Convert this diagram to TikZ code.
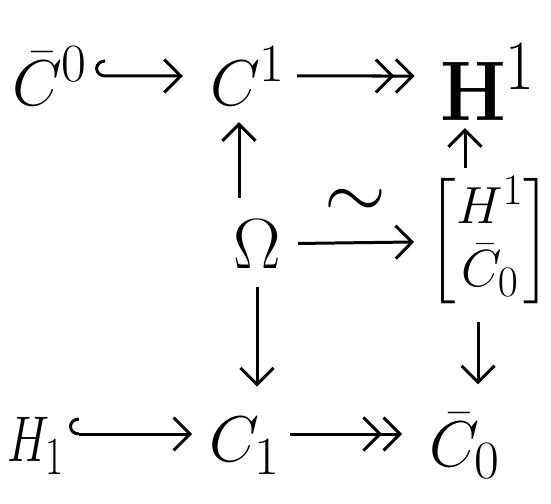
\documentclass[tikz,border=0pt]{standalone}
\usepackage{amsmath}
\usetikzlibrary{arrows.meta}
\begin{document}
\begin{tikzpicture}[x=1pt,y=-1pt,
  obj/.style={inner sep=1pt, font=\Huge, scale=2.6},
  objs/.style={inner sep=1pt, font=\Huge, scale=2.1},
  arr/.style={line width=3pt, -{Straight Barb[scale=2.2]}},
  epi/.style={line width=3pt, -{Straight Barb[scale=2.2]Straight Barb[scale=2.2]}},
  mono/.style={line width=3pt, {Hooks[right,scale=2.2]}-{Straight Barb[scale=2.2]}},
  lab/.style={font=\Huge, scale=3.2, inner sep=0pt}]
\useasboundingbox (0,0) rectangle (551,503);
\node[obj] (c0bar) at (50,76) {$\bar{C}^{0}$};
\node[inner sep=1pt, font=\Huge, xscale=3.0, yscale=3.4] (h1) at (488,82) {$\mathbf{H}^{1}$};
\node[obj] (c1) at (248,76) {$C^{1}$};
\node[obj, scale=1.1] (om) at (257,244) {$\Omega$};
\node[objs] (br) at (490,241) {$\begin{bmatrix} H^{1}\\ \bar{C}_{0}\end{bmatrix}$};
\node[inner sep=1pt, font=\Huge, xscale=1.9, yscale=2.6] (hh1) at (36,446) {$H_{1}$};
\node[obj] (cc1) at (245,446) {$C_{1}$};
\node[obj] (c0b) at (465,446) {$\bar{C}_{0}$};
\draw[mono, shorten <=4pt, shorten >=24pt] (c0bar) -- (c1);
\draw[epi, shorten <=8pt, shorten >=22pt] (c1) -- (h1.west |- c1);
\draw[arr, shorten <=18pt, shorten >=14pt] ([xshift=-18pt]om.north) -- ([xshift=-18pt]om.north |- c1.south);
\draw[arr, shorten <=15pt, shorten >=28pt] (om.south) -- (om.south |- cc1.north);
\draw[arr, shorten <=14pt, shorten >=12pt] (om) -- node[lab, above=6pt]{$\sim$} (br);
\draw[arr, shorten <=6pt, shorten >=4pt] ([xshift=-25pt]br.north) -- ([xshift=-25pt]br.north |- h1.south);
\draw[arr, shorten <=14pt, shorten >=26pt] ([xshift=-12pt]br.south) -- ([xshift=-12pt]br.south |- c0b.north);
\draw[mono, shorten <=2pt, shorten >=14pt] ([yshift=12pt]hh1.east) -- ([yshift=12pt]cc1.west);
\draw[epi, shorten <=6pt, shorten >=24pt] ([yshift=12pt]cc1.east) -- ([yshift=12pt]c0b.west);
\end{tikzpicture}
\end{document}
